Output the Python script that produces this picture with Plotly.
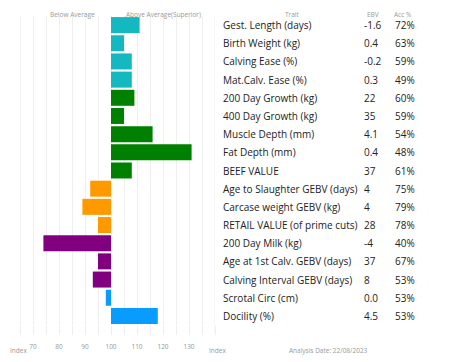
import plotly.graph_objects as go

traits = ["Gest. Length (days)", "Birth Weight (kg)", "Calving Ease (%)", "Mat.Calv. Ease (%)",
          "200 Day Growth (kg)", "400 Day Growth (kg)", "Muscle Depth (mm)", "Fat Depth (mm)",
          "BEEF VALUE", "Age to Slaughter GEBV (days)", "Carcase weight GEBV (kg)",
          "RETAIL VALUE (of prime cuts)", "200 Day Milk (kg)", "Age at 1st Calv. GEBV (days)",
          "Calving Interval GEBV (days)", "Scrotal Circ (cm)", "Docility (%)"]
ebv = ["-1.6", "0.4", "-0.2", "0.3", "22", "35", "4.1", "0.4", "37", "4", "4", "28", "-4",
       "37", "8", "0.0", "4.5"]
acc = ["72%", "63%", "59%", "49%", "60%", "59%", "54%", "48%", "61%", "75%", "79%", "78%",
       "40%", "67%", "53%", "53%", "53%"]
index_vals = [111, 105, 108, 108, 109, 105, 116, 131, 108, 92, 89, 95, 74, 95, 93, 98, 118]
groups = ["calving"] * 4 + ["growth"] * 5 + ["carcase"] * 3 + ["maternal"] * 3 + ["other"] * 2
group_colors = {"calving": "#14b8c0", "growth": "#008000", "carcase": "#ff9900",
                "maternal": "#800080", "other": "#0a9bff"}
tick_vals = [60, 70, 80, 90, 100, 110, 120, 130, 140]
tick_text = ["Index", "70", "80", "90", "100", "110", "120", "130", "Index"]
base_index = 100

OFF = 8  # default page body margin
W, H = 453 - OFF, 362 - OFF
FONT = "Open Sans"
GRID = "#efefef"
PX_PER_UNIT = 208 / 80.0

def px_x(p):
    return (p - OFF) / W

def px_y(p):
    return 1 - (p - OFF) / H

x_lo = 60 + (OFF - 7) / PX_PER_UNIT  # left visible edge of the plot

rows = list(range(len(traits)))
fig = go.Figure()
fig.add_trace(go.Bar(
    y=rows, x=[v - base_index for v in index_vals], base=base_index, orientation="h",
    marker=dict(color=[group_colors[g] for g in groups], line=dict(width=0)),
    width=0.88, showlegend=False, hoverinfo="skip"))

annotations = []
tfont = dict(family=FONT, size=10, color="#222")
for i, t in enumerate(traits):
    annotations.append(dict(x=px_x(221), y=i, xref="paper", yref="y", text=t, showarrow=False,
                            xanchor="left", yanchor="middle", font=tfont))
    annotations.append(dict(x=px_x(362), y=i, xref="paper", yref="y", text=ebv[i], showarrow=False,
                            xanchor="left", yanchor="middle", font=tfont))
    annotations.append(dict(x=px_x(393), y=i, xref="paper", yref="y", text=acc[i], showarrow=False,
                            xanchor="left", yanchor="middle", font=tfont))

small = dict(family=FONT, size=6.5, color="#999999")
for txt, xp in [("Below Average", 72), ("Above Average(Superior)", 163), ("Trait", 292),
                ("EBV", 373), ("Acc %", 403)]:
    annotations.append(dict(x=px_x(xp), y=1, xref="paper", yref="paper", text=txt,
                            showarrow=False, xanchor="center", yanchor="top", font=small))
annotations.append(dict(x=0, y=px_y(350), xref="paper", yref="paper", text=tick_text[0],
                        showarrow=False, xanchor="left", yanchor="middle", font=small))
annotations.append(dict(x=px_x(217), y=px_y(350), xref="paper", yref="paper", text=tick_text[-1],
                        showarrow=False, xanchor="center", yanchor="middle", font=small))
annotations.append(dict(x=px_x(328), y=px_y(350), xref="paper", yref="paper",
                        text="Analysis Date: 22/08/2023", showarrow=False,
                        xanchor="center", yanchor="middle", font=small))

fig.update_layout(
    width=W, height=H, margin=dict(l=0, r=0, t=0, b=0, autoexpand=False),
    paper_bgcolor="white", plot_bgcolor="white",
    annotations=annotations, bargap=0.12,
    xaxis=dict(domain=[0, px_x(215)], range=[x_lo, 140], tickvals=tick_vals[1:-1],
               ticktext=tick_text[1:-1], showgrid=True, gridcolor=GRID, gridwidth=1,
               ticks="outside", ticklen=9, tickcolor=GRID, zeroline=False, automargin=False,
               showline=False, tickfont=small, ticklabelstandoff=6,
               minor=dict(dtick=5, tick0=60, showgrid=True, gridcolor=GRID,
                          ticks="outside", ticklen=9, tickcolor=GRID)),
    yaxis=dict(domain=[px_y(325), px_y(16)], range=[16.5, -0.5], showticklabels=False,
               showgrid=False, zeroline=False, ticks="", automargin=False),
)
# right boundary gridline at 140
fig.add_shape(type="line", xref="x", yref="paper", x0=140, x1=140,
              y0=px_y(333), y1=px_y(16), line=dict(color=GRID, width=1), layer="below")

fig.write_html("out.html")
